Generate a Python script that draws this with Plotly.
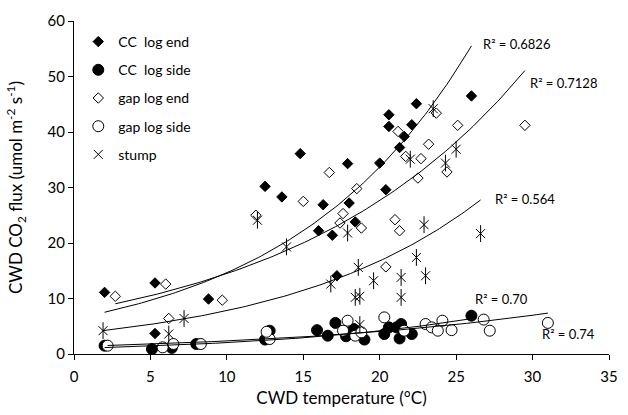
import numpy as np
import plotly.graph_objects as go

# ---- data ----
cc_end_x = [2.0, 5.3, 8.8, 5.3, 12.5, 14.8, 17.9, 20.0, 20.6, 20.6, 22.4, 22.1, 21.6, 21.3,
            20.4, 13.6, 16.3, 18.0, 18.4, 16.0, 16.9, 17.2, 26.0]
cc_end_y = [11.1, 12.8, 9.9, 3.7, 30.2, 36.1, 34.3, 34.4, 43.1, 41.0, 45.1, 41.3, 39.2, 37.2,
            29.6, 28.3, 26.9, 27.2, 23.8, 22.2, 21.4, 14.1, 46.5]

gap_end_x = [2.7, 6.0, 9.7, 6.2, 11.9, 16.7, 21.2, 21.7, 22.7, 23.2, 23.7, 22.5, 24.4, 18.5,
             25.1, 15.0, 17.6, 17.4, 18.8, 21.0, 21.3, 20.4, 29.5]
gap_end_y = [10.4, 12.6, 9.7, 6.4, 25.0, 32.7, 40.1, 35.6, 35.2, 37.8, 43.4, 31.7, 32.8, 29.8,
             41.2, 27.5, 25.3, 23.6, 22.7, 24.2, 22.2, 15.7, 41.2]

cc_side_x = [2.0, 5.1, 6.4, 8.0, 12.5, 12.8, 15.9, 16.6, 17.1, 17.8, 18.3, 19.0, 20.3, 20.6,
             21.1, 21.4, 21.3, 22.1, 26.0]
cc_side_y = [1.5, 0.9, 1.1, 1.8, 2.6, 4.2, 4.3, 3.3, 5.6, 3.2, 4.5, 2.6, 3.6, 4.8,
             4.8, 5.4, 2.8, 3.6, 6.9]

gap_side_x = [2.2, 5.8, 6.5, 8.3, 12.8, 12.6, 17.9, 17.6, 18.4, 18.8, 20.3, 21.6, 23.0, 23.4,
              23.8, 24.1, 24.7, 26.8, 27.2, 31.0]
gap_side_y = [1.5, 1.2, 1.8, 1.8, 2.7, 4.0, 6.0, 4.2, 3.3, 3.9, 6.6, 4.2, 5.4, 4.8,
              4.2, 6.0, 4.3, 6.2, 4.2, 5.6]

stump_x = [1.9, 7.2, 6.2, 12.0, 22.0, 23.5, 24.3, 25.0, 17.9, 22.9, 13.9, 22.4, 18.6, 16.8,
           19.6, 21.4, 23.0, 18.4, 18.7, 21.4, 18.7, 26.6]
stump_y = [4.2, 6.4, 3.6, 24.1, 35.1, 44.2, 34.4, 36.9, 21.8, 23.3, 19.3, 17.4, 15.6, 12.6,
           13.2, 13.8, 14.1, 10.2, 10.4, 10.2, 5.3, 21.7]

r2_labels = ["R² = 0.6826", "R² = 0.7128", "R² = 0.564", "R² = 0.70", "R² = 0.74"]
x_ticks = [0, 5, 10, 15, 20, 25, 30, 35]
y_ticks = [0, 10, 20, 30, 40, 50, 60]

FONT = "Lato, 'Open Sans', sans-serif"


def expfit(x, y):
    x = np.asarray(x, float)
    y = np.asarray(y, float)
    b, ln_a = np.polyfit(x, np.log(y), 1)
    xs = np.linspace(x.min(), x.max(), 120)
    return xs, np.exp(ln_a) * np.exp(b * xs)


fig = go.Figure()

fig.add_trace(go.Scatter(x=cc_end_x, y=cc_end_y, mode="markers", name="CC  log end",
                         legendgroup="a",
                         marker=dict(symbol="diamond", size=8, color="black",
                                     line=dict(color="black", width=1))))
fig.add_trace(go.Scatter(x=cc_side_x, y=cc_side_y, mode="markers", name="CC  log side",
                         legendgroup="b",
                         marker=dict(symbol="circle", size=11, color="black",
                                     line=dict(color="black", width=1))))
fig.add_trace(go.Scatter(x=gap_end_x, y=gap_end_y, mode="markers", name="gap log end",
                         legendgroup="c",
                         marker=dict(symbol="diamond", size=8, color="white",
                                     line=dict(color="black", width=1))))
fig.add_trace(go.Scatter(x=gap_side_x, y=gap_side_y, mode="markers", name="gap log side",
                         legendgroup="d",
                         marker=dict(symbol="circle", size=11, color="white",
                                     line=dict(color="black", width=1))))
fig.add_trace(go.Scatter(x=stump_x, y=stump_y, mode="markers", name="stump",
                         legendgroup="e",
                         marker=dict(symbol="x-thin-open", size=9, color="black",
                                     line=dict(color="black", width=1))))
fig.add_trace(go.Scatter(x=stump_x, y=stump_y, mode="markers", showlegend=False,
                         legendgroup="e", hoverinfo="skip",
                         marker=dict(symbol="line-ns-open", size=12, color="black",
                                     line=dict(color="black", width=1))))

for xs_, ys_ in [(cc_end_x, cc_end_y), (gap_end_x, gap_end_y), (stump_x, stump_y),
                 (gap_side_x, gap_side_y), (cc_side_x, cc_side_y)]:
    fx, fy = expfit(xs_, ys_)
    fig.add_trace(go.Scatter(x=fx, y=fy, mode="lines", showlegend=False, hoverinfo="skip",
                             line=dict(color="black", width=1)))

label_pos = [(26.6, 55.9), (29.7, 48.9), (27.4, 28.0), (26.1, 9.9), (30.5, 3.6)]
for txt, (lx, ly) in zip(r2_labels, label_pos):
    fig.add_annotation(x=lx, y=ly, text=txt, showarrow=False, xanchor="left",
                       yanchor="middle", font=dict(size=13, color="black", family=FONT))

fig.update_layout(
    width=628, height=415,
    margin=dict(l=74, r=10, t=21, b=60),
    paper_bgcolor="white", plot_bgcolor="white",
    font=dict(family=FONT, color="black", size=15),
    legend=dict(x=0.008, y=0.985, xanchor="left", yanchor="top",
                bgcolor="rgba(0,0,0,0)", font=dict(size=14, family=FONT),
                traceorder="grouped", tracegroupgap=7, itemwidth=30),
    showlegend=True,
)
fig.update_xaxes(range=[0, 35], tickvals=x_ticks, showgrid=False, zeroline=False,
                 showline=True, linecolor="black", linewidth=1,
                 ticks="outside", ticklen=5, tickcolor="black", ticklabelstandoff=4,
                 title=dict(text="CWD temperature (°C)", font=dict(size=17), standoff=8))
fig.update_yaxes(range=[0, 60], tickvals=y_ticks, showgrid=False, zeroline=False,
                 showline=True, linecolor="black", linewidth=1,
                 ticks="outside", ticklen=5, tickcolor="black",
                 title=dict(text="CWD CO<sub>2</sub> flux (umol m<sup>-2</sup> s<sup>-1</sup>)",
                            font=dict(size=17), standoff=20))

fig.write_html("out.html", config={"displayModeBar": False},
               post_script="document.body.style.margin='0px';")
